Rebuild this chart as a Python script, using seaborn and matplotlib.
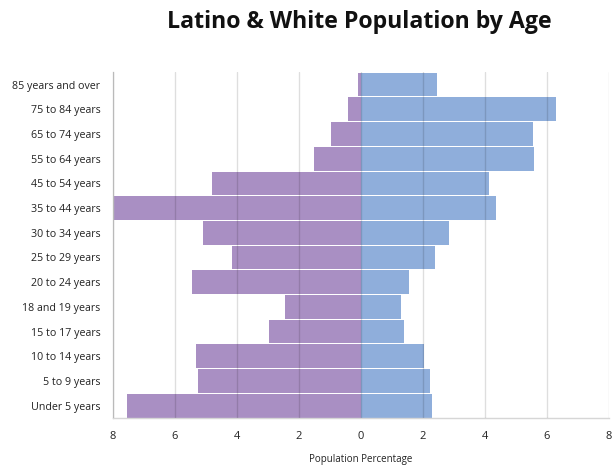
import matplotlib
matplotlib.use("Agg")
import matplotlib.pyplot as plt
import matplotlib.ticker as mticker
import pandas as pd
import seaborn as sns

age_groups = [
    "85 years and over", "75 to 84 years", "65 to 74 years", "55 to 64 years",
    "45 to 54 years", "35 to 44 years", "30 to 34 years", "25 to 29 years",
    "20 to 24 years", "18 and 19 years", "15 to 17 years", "10 to 14 years",
    "5 to 9 years", "Under 5 years",
]
latino_pct = [0.1, 0.4, 0.95, 1.5, 4.8, 7.95, 5.1, 4.15, 5.45, 2.45, 2.95, 5.3, 5.25, 7.55]
white_pct = [2.45, 6.3, 5.55, 5.6, 4.15, 4.35, 2.85, 2.4, 1.55, 1.3, 1.4, 2.05, 2.25, 2.3]
x_ticks = [-8, -6, -4, -2, 0, 2, 4, 6, 8]

df = pd.DataFrame({"age": age_groups,
                   "latino": [-v for v in latino_pct],
                   "white": white_pct})

sns.set_theme(style="white")
plt.rcParams["font.family"] = ["Open Sans", "DejaVu Sans"]

fig = plt.figure(figsize=(6.13, 4.66), dpi=100)
ax = fig.add_axes([0.184, 0.103, 0.809, 0.742])

sns.barplot(data=df, x="latino", y="age", order=age_groups, orient="h",
            color="#A98FC3", saturation=1, width=0.96, linewidth=0, ax=ax)
sns.barplot(data=df, x="white", y="age", order=age_groups, orient="h",
            color="#8FAEDB", saturation=1, width=0.96, linewidth=0, ax=ax)

ax.set_xlim(-8, 8)
ax.set_ylim(len(age_groups) - 0.5, -0.5)
ax.xaxis.set_major_locator(mticker.FixedLocator(x_ticks))
ax.xaxis.set_major_formatter(mticker.FuncFormatter(lambda v, p: f"{abs(v):g}"))

# light vertical grid drawn over the bars so it shows through faintly
ax.grid(axis="x", color="black", alpha=0.13, linewidth=1)
ax.grid(axis="y", visible=False)
ax.set_axisbelow(False)

for side in ("top", "right"):
    ax.spines[side].set_visible(False)
ax.spines["left"].set_color("#d6d6d6")
ax.spines["bottom"].set_color("#d6d6d6")
ax.spines["left"].set_linewidth(1)
ax.spines["bottom"].set_linewidth(1)

ax.tick_params(axis="both", length=0, colors="#222222")
ax.tick_params(axis="y", pad=9, labelsize=7.7)
ax.tick_params(axis="x", pad=9, labelsize=8)
ax.set_ylabel("")
ax.set_xlabel("Population Percentage", fontsize=7, color="#222222", labelpad=9)

fig.text(0.586, 0.953, "Latino & White Population by Age", ha="center", va="center",
         fontsize=16.7, fontweight="bold", color="#111111")

fig.savefig("out.png", dpi=100, facecolor="white")
